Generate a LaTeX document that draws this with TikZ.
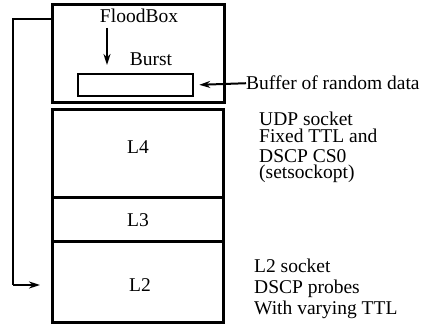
\documentclass[tikz,border=0pt]{standalone}
\usepackage{fontspec}
\setmainfont{Liberation Serif}
\usetikzlibrary{arrows.meta}
\begin{document}
\begin{tikzpicture}[x=1pt,y=-1pt,
  box/.style={draw, line width=3pt, inner sep=0pt},
  txt/.style={inner sep=0pt, font=\fontsize{19.5}{21}\selectfont},
  arr/.style={line width=2pt, -{Stealth[length=11pt,width=7pt]}}]
\useasboundingbox (0,0) rectangle (424,326);
% FloodBox
\node[box, minimum width=172pt, minimum height=98pt] (flood) at (138,54) {};
\node[txt, anchor=base] (fbt) at (139,23) {FloodBox};
\node[txt, anchor=base] (burst) at (151,66) {Burst};
\node[draw, line width=2.5pt, inner sep=0pt, minimum width=115pt, minimum height=22pt] (buf) at (135.5,85) {};
\coordinate (a1) at (107,28);
\coordinate (a2) at (107,65);
\draw[arr] (a1) -- (a2);
\node[txt, anchor=base west] (buft) at (246,90) {Buffer of random data};
\draw[arr, shorten >=5pt] (buft.west) -- (buf.east);
% Stack
\node[box, minimum width=171pt, minimum height=213pt] (stack) at (137.5,216.5) {};
\coordinate (d1) at (52,198);
\coordinate (d2) at (52,242);
\draw[line width=3pt] (d1) -- (d1 -| stack.east);
\draw[line width=3pt] (d2) -- (d2 -| stack.east);
\node[txt] (l4) at (138,147) {L4};
\node[txt] (l3) at (138,220) {L3};
\node[txt] (l2) at (140,285) {L2};
% left connector
\coordinate (c0) at (52,19);
\coordinate (c1) at (13,19);
\coordinate (c2) at (13,285);
\coordinate (c3) at (40,285);
\draw[line width=2pt] (c0) -- (c1) -- (c2);
\draw[arr] (c2) -- (c3);
% right texts
\node[txt, anchor=base west] (u1) at (259,126) {UDP socket};
\node[txt, anchor=base west] (u2) at (259,143) {Fixed TTL and};
\node[txt, anchor=base west] (u3) at (259,163) {DSCP CS0};
\node[txt, anchor=base west] (u4) at (259,179) {(setsockopt)};
\node[txt, anchor=base west] (s1) at (254,273) {L2 socket};
\node[txt, anchor=base west] (s2) at (254,294) {DSCP probes};
\node[txt, anchor=base west] (s3) at (254,315) {With varying TTL};
\end{tikzpicture}
\end{document}
